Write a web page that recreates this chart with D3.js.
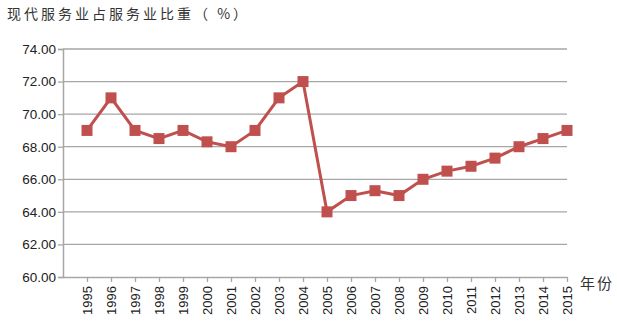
<!DOCTYPE html>
<html><head><meta charset="utf-8">
<script src="https://cdn.jsdelivr.net/npm/d3@7"></script>
<style>body{margin:0;background:#fff;}</style>
</head><body>
<script>
const years = ["1995","1996","1997","1998","1999","2000","2001","2002","2003","2004","2005","2006","2007","2008","2009","2010","2011","2012","2013","2014","2015"];
const values = [69,71,69,68.5,69,68.3,68,69,71,72,64,65,65.3,65,66,66.5,66.8,67.3,68,68.5,69];
const yTicks = [60,62,64,66,68,70,72,74];
const title = "现代服务业占服务业比重（ %）";
const xTitle = "年份";

const W=617,H=325;
const svg=d3.select("body").append("svg").attr("width",W).attr("height",H);
const x=d3.scaleLinear().domain([-1,years.length-1]).range([63,567]);
const y=d3.scaleLinear().domain([60,74]).range([277,49]);
const grid="#a6a6a6";

svg.append("g").selectAll("line").data(yTicks.filter(d=>d>60)).join("line")
 .attr("x1",63).attr("x2",567).attr("y1",d=>y(d)).attr("y2",d=>y(d))
 .attr("stroke",grid).attr("stroke-width",1.3);

const ya=svg.append("g").attr("transform","translate(63,0)")
 .call(d3.axisLeft(y).tickValues(yTicks).tickFormat(d3.format(".2f")).tickSize(5));
ya.select(".domain").attr("stroke",grid).attr("stroke-width",1.5);
ya.selectAll(".tick line").attr("stroke",grid).attr("stroke-width",1.3);
ya.selectAll("text").attr("font-family","Liberation Sans, Arial, sans-serif").attr("font-size",13.5).attr("fill","#222").attr("x",-7);

const xa=svg.append("g").attr("transform","translate(0,277)")
 .call(d3.axisBottom(x).tickValues(d3.range(years.length)).tickFormat(i=>years[i]).tickSize(5).tickSizeOuter(0));
xa.select(".domain").attr("stroke",grid).attr("stroke-width",1.5);
xa.selectAll(".tick line").attr("stroke",grid).attr("stroke-width",1.3);
xa.selectAll("text").attr("font-family","Liberation Sans, Arial, sans-serif").attr("font-size",13).attr("fill","#222")
 .attr("transform","rotate(-90)").attr("text-anchor","end").attr("x",-9).attr("y",0).attr("dy","0.35em");

svg.append("path").datum(values)
 .attr("d",d3.line().x((d,i)=>x(i)).y(d=>y(d)))
 .attr("fill","none").attr("stroke","#c0504d").attr("stroke-width",3);
svg.append("g").selectAll("rect").data(values).join("rect")
 .attr("x",(d,i)=>x(i)-5.5).attr("y",d=>y(d)-5.5).attr("width",11).attr("height",11)
 .attr("fill","#c0504d");

svg.append("text").attr("x",7).attr("y",19).text(title)
 .attr("font-family","Noto Sans CJK SC").attr("font-size",14).attr("fill","#333").attr("letter-spacing",3);
svg.append("text").attr("x",580).attr("y",289).text(xTitle)
 .attr("font-family","Noto Sans CJK SC").attr("font-size",15).attr("fill","#333").attr("letter-spacing",2);
</script>
</body></html>
